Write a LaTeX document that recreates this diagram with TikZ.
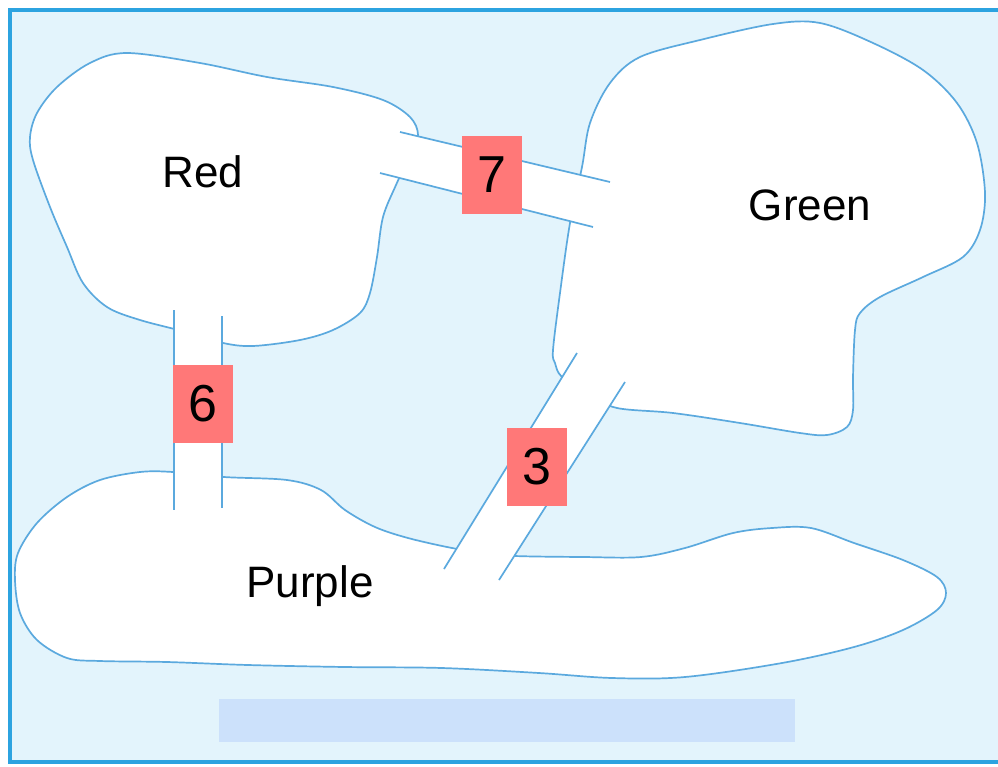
\documentclass[tikz,border=0pt]{standalone}
\usepackage{fontspec}
\setmainfont{Liberation Sans}
\definecolor{water}{HTML}{E3F4FC}
\definecolor{framecol}{HTML}{2CA3E0}
\definecolor{shore}{HTML}{5BA9DE}
\definecolor{salmon}{HTML}{FF7878}
\definecolor{barcol}{HTML}{CCE1FB}
\begin{document}
\begin{tikzpicture}[x=1pt,y=-1pt,
  island/.style={draw=shore, line width=1.7pt, fill=white},
  bridgeline/.style={draw=shore, line width=1.7pt},
  bridgedeck/.style={fill=white},
  labelbox/.style={fill=salmon, minimum width=60pt, minimum height=78pt, inner sep=0pt, font=\fontsize{52}{52}\selectfont},
  islandname/.style={anchor=base, inner sep=0pt, font=\fontsize{44}{50}\selectfont}]
\useasboundingbox (0,0) rectangle (998,766);
\clip (0,0) rectangle (998,766);
% water and frame (right edge lies outside the picture)
\fill[water] (10,10) rectangle (998,762);
\draw[framecol, line width=3.5pt] (998,10) -- (10,10) -- (10,762) -- (998,762);
% bottom bar
\fill[barcol] (219,699) rectangle (795,742);
% islands
\draw[island] plot[smooth cycle, tension=0.55] coordinates {
 (127,53) (200,63) (267,77) (333,87) (383,100) (410,117) (418,135) (410,155)
 (396,185) (383,217) (377,257) (370,293) (360,313) (333,330) (300,340)
 (253,346) (223,343) (190,333) (140,320) (107,307) (83,283) (67,247)
 (50,207) (33,160) (30,137) (37,113) (57,87) (90,63)};
\draw[island] plot[smooth cycle, tension=0.55] coordinates {
 (820,23) (873,43) (923,70) (957,103) (977,143) (985,193) (980,230)
 (963,257) (923,277) (880,297) (860,313) (855,330) (853,377) (853,410)
 (847,427) (827,435) (800,433) (740,423) (673,413) (617,408) (590,395)
 (562,377) (555,363) (553,350) (560,293) (570,223) (582,167) (590,123)
 (610,83) (640,57) (700,40) (773,24)};
\draw[island] plot[smooth cycle, tension=0.55] coordinates {
 (173,472) (224,477) (287,480) (321,490) (345,510) (375,527) (408,538)
 (452,548) (485,553) (515,556) (583,557) (641,557) (685,548) (733,533)
 (772,528) (811,528) (854,543) (903,560) (937,577) (946,593) (937,610)
 (903,630) (854,647) (782,663) (685,677) (612,678) (539,673) (442,668)
 (345,667) (248,665) (167,662) (100,661) (67,658) (37,640) (20,613)
 (15,580) (18,553) (37,523) (67,497) (100,480) (140,472)};
% bridge 7
\coordinate (b7a) at (400,132); \coordinate (b7b) at (610,182);
\coordinate (b7c) at (593,227); \coordinate (b7d) at (380,173);
\fill[bridgedeck] (b7a) -- (b7b) -- (b7c) -- (b7d) -- cycle;
\draw[bridgeline] (b7a) -- (b7b);
\draw[bridgeline] (b7d) -- (b7c);
% bridge 6
\coordinate (b6a) at (174,310); \coordinate (b6b) at (222,316);
\coordinate (b6c) at (222,508); \coordinate (b6d) at (174,510);
\fill[bridgedeck] (b6a) -- (b6b) -- (b6c) -- (b6d) -- cycle;
\draw[bridgeline] (b6a) -- (b6d);
\draw[bridgeline] (b6b) -- (b6c);
% bridge 3
\coordinate (b3a) at (577,353); \coordinate (b3b) at (625,382);
\coordinate (b3c) at (499,580); \coordinate (b3d) at (444,569);
\fill[bridgedeck] (b3a) -- (b3b) -- (b3c) -- (b3d) -- cycle;
\draw[bridgeline] (b3a) -- (b3d);
\draw[bridgeline] (b3b) -- (b3c);
% labels
\node[labelbox] (l7) at (492,175) {7};
\node[labelbox] (l6) at (202.5,403.5) {6};
\node[labelbox] (l3) at (537,466.5) {3};
\node[islandname] (red) at (203,187) {Red};
\node[islandname] (green) at (810,220) {Green};
\node[islandname] (purple) at (310,597) {Purple};
\end{tikzpicture}
\end{document}
